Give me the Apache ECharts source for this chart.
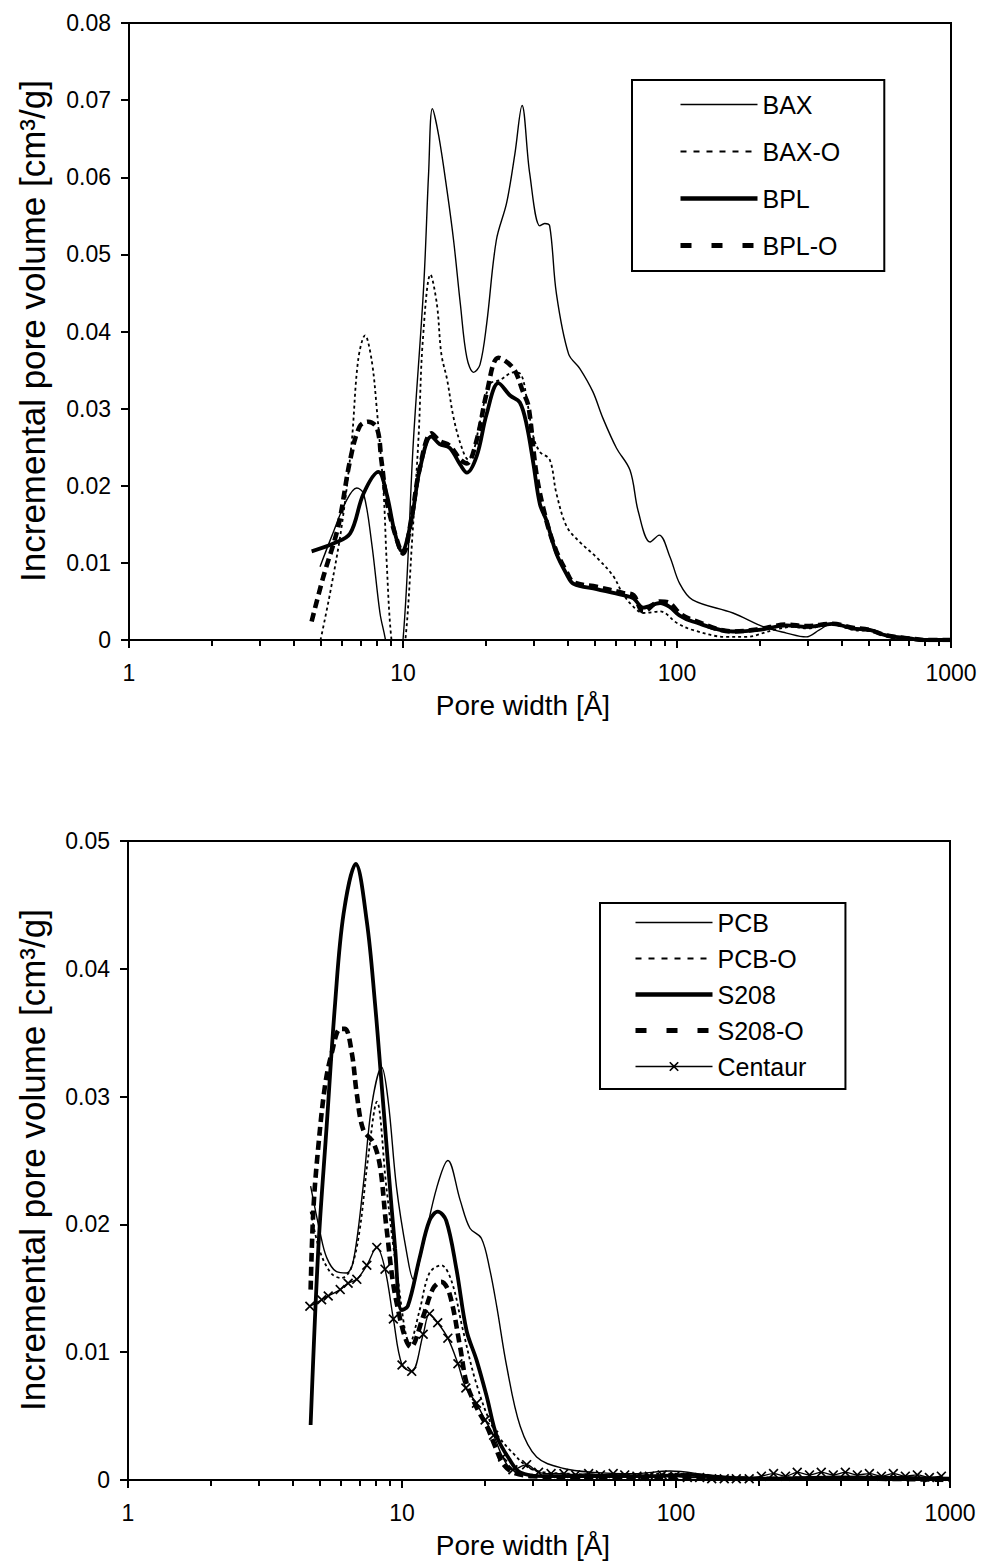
<!DOCTYPE html>
<html><head><meta charset="utf-8">
<script src="https://cdn.jsdelivr.net/npm/echarts@6/dist/echarts.min.js"></script>
<style>html,body{margin:0;padding:0;background:#fff}#c{width:981px;height:1566px}</style>
</head><body><div id="c"></div>
<script>
const FONT = '"Liberation Sans", Arial, Helvetica, sans-serif';

// ---------- Top chart data: [pore width Å, incremental pore volume cm3/g] ----------
const bax = [[4.98,0.0095],[5.5,0.0135],[6.2,0.018],[6.78,0.0197],[7.18,0.019],[7.69,0.0125],[8.24,0.0035],[8.6,0.0003],[9.2,-0.006],[10.0,0.0],[10.9,0.0255],[11.9,0.0459],[12.4,0.0605],[12.8,0.0689],[13.5,0.0654],[14.5,0.0581],[15.3,0.0518],[16.2,0.0435],[17.1,0.0366],[18.1,0.0347],[19.1,0.0357],[20.2,0.041],[21.9,0.0518],[23.9,0.0567],[25.6,0.063],[27.2,0.0693],[29.0,0.0605],[31.6,0.0537],[32.9,0.054],[34.3,0.0537],[36.3,0.0449],[40.2,0.0371],[44.2,0.0352],[49.3,0.0322],[53.6,0.0288],[60.1,0.0249],[67.4,0.022],[72.3,0.0166],[79.8,0.0127],[86.1,0.0136],[94.2,0.0108],[102.3,0.0073],[114,0.0052],[160,0.0035],[207,0.0017],[251,0.0009],[296,0.0004],[331,0.0013],[370,0.0022],[427,0.0015],[519,0.0013],[595,0.0004],[708,0.0002],[800,0],[1000,0]];
const baxO = [[5.0,0.0],[5.42,0.0061],[5.97,0.0147],[6.49,0.0255],[6.86,0.0363],[7.27,0.0395],[7.69,0.0362],[8.03,0.0298],[8.5,0.019],[8.71,0.0104],[9.06,0.0003],[9.6,-0.005],[10.2,0.0],[10.8,0.013],[11.4,0.0264],[11.8,0.0386],[12.6,0.0474],[13.3,0.0435],[13.8,0.0371],[14.5,0.0337],[15.3,0.0288],[16.4,0.0249],[17.3,0.0234],[18.1,0.0245],[19.1,0.0283],[20.8,0.0332],[22.6,0.0337],[25.3,0.0347],[27.0,0.0344],[28.3,0.0312],[29.9,0.0264],[31.6,0.0244],[34.3,0.0234],[36.3,0.019],[39.6,0.0147],[44.2,0.0127],[50.9,0.0107],[58.5,0.0083],[63.4,0.006],[69.4,0.0043],[75.3,0.0035],[86.8,0.0037],[100,0.0022],[114,0.0013],[151,0.0004],[178,0.0004],[225,0.0013],[265,0.0017],[296,0.0015],[370,0.002],[440,0.0013],[519,0.0011],[600,0.0003],[708,0.0001],[1000,0]];
const bpl = [[4.64,0.0115],[5.57,0.0125],[6.41,0.0138],[7.18,0.019],[8.14,0.0218],[8.71,0.019],[9.35,0.0138],[9.9,0.0115],[10.74,0.0156],[11.5,0.022],[12.7,0.0264],[13.6,0.0254],[14.8,0.0249],[16.2,0.0227],[17.1,0.0217],[18.6,0.0239],[20.2,0.0293],[22.3,0.0333],[24.6,0.0317],[26.7,0.0308],[28.3,0.0278],[29.9,0.0229],[31.6,0.0176],[33.3,0.0156],[36.3,0.0112],[39.6,0.0085],[41.9,0.0073],[50.9,0.0066],[63.6,0.0058],[69.4,0.0054],[75.3,0.0042],[86.8,0.0048],[94,0.0043],[102,0.0032],[114,0.0024],[160,0.0011],[199,0.0013],[251,0.0019],[296,0.0017],[370,0.0021],[438,0.0015],[505,0.0013],[580,0.0006],[708,0.0002],[800,0],[1000,0]];
const bplO = [[4.64,0.0024],[5.12,0.0082],[5.8,0.0147],[6.41,0.0233],[6.95,0.0277],[7.47,0.0283],[8.03,0.0275],[8.34,0.0233],[8.71,0.0182],[9.35,0.0138],[10.0,0.0112],[10.74,0.0158],[11.5,0.0222],[12.7,0.0268],[13.6,0.0258],[14.8,0.0252],[16.2,0.0234],[17.1,0.0229],[18.6,0.026],[20.2,0.032],[22.3,0.0366],[25.3,0.0352],[27.4,0.0322],[28.7,0.0303],[30.7,0.0215],[33.3,0.0156],[36.3,0.0115],[39.6,0.0088],[41.9,0.0075],[50.9,0.0069],[63.6,0.0061],[69.4,0.0058],[75.3,0.0037],[86.8,0.005],[94,0.0048],[102,0.0035],[114,0.0026],[160,0.0011],[199,0.0014],[251,0.002],[296,0.0018],[370,0.0021],[438,0.0016],[505,0.0013],[580,0.0006],[708,0.0002],[800,0],[1000,0]];

// ---------- Bottom chart data ----------
const pcb = [[4.64,0.023],[5.02,0.0194],[5.31,0.0174],[5.77,0.0163],[6.27,0.0162],[6.64,0.0171],[7.21,0.0229],[7.75,0.0293],[8.43,0.0323],[8.91,0.0296],[9.55,0.0229],[10.4,0.0178],[11.0,0.0157],[11.95,0.0184],[13.4,0.0229],[14.7,0.025],[16.3,0.0219],[17.7,0.0197],[19.5,0.0189],[20.9,0.0165],[22.2,0.0135],[24.1,0.0089],[27.0,0.0042],[31,0.0018],[38.9,0.0009],[50,0.0006],[70,0.0005],[95,0.0007],[130,0.0004],[170,0.0001],[200,0.0001],[300,0.0002],[500,0.0002],[1000,0.0001]];
const pcbO = [[4.64,0.021],[5.0,0.018],[5.5,0.0162],[6.0,0.0158],[6.5,0.0165],[7.0,0.0195],[7.5,0.025],[8.1,0.0296],[8.77,0.0229],[9.55,0.0165],[10.7,0.0107],[11.6,0.0133],[12.6,0.0162],[13.9,0.0168],[15.2,0.0155],[16.7,0.0117],[18.7,0.0075],[21.6,0.004],[25.4,0.0021],[30.1,0.0008],[40,0.0005],[60,0.0004],[95,0.0005],[130,0.0003],[180,0.0001],[300,0.0002],[600,0.0002],[1000,0.0001]];
const s208 = [[4.64,0.0043],[4.95,0.0181],[5.31,0.0277],[5.7,0.0373],[6.12,0.0443],[6.78,0.0482],[7.44,0.0437],[7.97,0.0373],[8.43,0.0309],[8.91,0.0245],[9.44,0.0181],[9.96,0.0133],[10.5,0.0136],[11.6,0.0174],[12.6,0.0203],[13.5,0.021],[14.5,0.0203],[15.8,0.0165],[17.2,0.0117],[18.7,0.0094],[20.4,0.0065],[22.2,0.0034],[24.7,0.0016],[27.0,0.0006],[32.7,0.0003],[50,0.0003],[80,0.0003],[110,0.0004],[150,0.0002],[200,0.0001],[400,0.0002],[1000,0.0001]];
const s208O = [[4.64,0.0149],[4.75,0.0212],[4.95,0.0261],[5.24,0.0309],[5.54,0.0334],[5.95,0.0353],[6.2,0.0353],[6.56,0.0334],[6.84,0.0302],[7.22,0.0274],[7.86,0.0264],[8.32,0.0245],[8.78,0.0197],[9.55,0.0139],[10.8,0.0104],[11.95,0.0128],[13.0,0.015],[13.9,0.0155],[14.9,0.0146],[16.3,0.0104],[17.2,0.0076],[18.7,0.0057],[20.4,0.0042],[21.9,0.0026],[23.3,0.0013],[25.4,0.0006],[30,0.0003],[50,0.0002],[100,0.0002],[200,0.0001],[500,0.0001],[1000,0]];
const centaur = [[4.61,0.0136],[5.09,0.0141],[5.38,0.0144],[5.95,0.0149],[6.36,0.0154],[6.84,0.0157],[7.44,0.0168],[8.09,0.0182],[8.67,0.0165],[9.3,0.0126],[10.0,0.009],[10.85,0.0085],[11.95,0.0114],[12.6,0.013],[13.5,0.0123],[14.7,0.0111],[16.0,0.0091],[17.1,0.0072],[18.7,0.006],[20.1,0.0047],[21.6,0.0035],[23.3,0.0018],[25.4,0.0008],[28.5,0.0012],[31.5,0.0006],[35,0.0005],[39,0.0005],[43,0.0004],[48,0.0005],[53,0.0004],[59,0.0005],[65,0.0004],[72,0.0003],[80,0.0003],[89,0.0004],[99,0.0003],[110,0.0002],[122,0.0002],[135,0.0001],[150,0.0001],[166,0.0001],[185,0.0001],[205,0.0003],[227,0.0005],[251,0.0003],[277,0.0006],[307,0.0004],[339,0.0006],[375,0.0004],[415,0.0006],[459,0.0004],[508,0.0005],[562,0.0003],[621,0.0005],[687,0.0003],[760,0.0004],[841,0.0002],[930,0.0003]];

// ---------- Axis tick values / labels ----------
const xMinorTicks = [2,3,4,5,6,7,8,9,20,30,40,50,60,70,80,90,200,300,400,500,600,700,800,900];
const xMin = 1, xMax = 1000;
const topYMax = 0.08, bottomYMax = 0.05, yStep = 0.01;
const xTitle = 'Pore width [Å]';
const yTitle = 'Incremental pore volume [cm³/g]';

const X_SYMBOL = 'path://M0,1.2L1.2,0L5,3.8L8.8,0L10,1.2L6.2,5L10,8.8L8.8,10L5,6.2L1.2,10L0,8.8L3.8,5Z';

const chart = echarts.init(document.getElementById('c'), null, {renderer: 'svg'});

function majorX(gi) {
  return {
    type: 'log', logBase: 10, min: xMin, max: xMax, gridIndex: gi, position: 'bottom',
    axisLine: {show: true, lineStyle: {color: '#000', width: 2}},
    axisTick: {show: true, inside: false, length: 8, lineStyle: {color: '#000', width: 2}},
    axisLabel: {show: true, color: '#000', fontSize: 23, fontFamily: FONT, margin: 21,
      formatter: function (v) { return String(Math.round(v)); }},
    splitLine: {show: false}, minorTick: {show: false}, minorSplitLine: {show: false}
  };
}
// minor tick marks at 2..9 of each decade (axis expressed in decades)
function minorX(gi) {
  return {
    type: 'value', min: Math.log10(xMin), max: Math.log10(xMax), gridIndex: gi, position: 'bottom',
    axisLine: {show: false},
    axisTick: {show: true, inside: false, length: 6, lineStyle: {color: '#000', width: 2},
      customValues: xMinorTicks.map(function (t) { return Math.log10(t); })},
    axisLabel: {show: false},
    splitLine: {show: false}
  };
}
function yAx(gi, max) {
  return {
    type: 'value', min: 0, max: max, interval: yStep, gridIndex: gi,
    axisLine: {show: true, lineStyle: {color: '#000', width: 2}},
    axisTick: {show: true, inside: false, length: 8, lineStyle: {color: '#000', width: 2}},
    axisLabel: {color: '#000', fontSize: 23, fontFamily: FONT, margin: 18},
    splitLine: {show: false}
  };
}
function ln(name, data, xi, yi, width, type, extra) {
  return Object.assign({
    name: name, type: 'line', data: data, xAxisIndex: xi, yAxisIndex: yi,
    symbol: 'none', showSymbol: false, smooth: 0.35, clip: true, silent: true,
    lineStyle: {color: '#000', width: width, type: type || 'solid'},
    itemStyle: {color: '#000'}
  }, extra || {});
}
const legendText = {color: '#000', fontSize: 25, fontFamily: FONT, lineHeight: 25};

chart.setOption({
  animation: false,
  backgroundColor: '#fff',
  grid: [
    {left: 129, top: 23, width: 822, height: 617, show: true, borderColor: '#000', borderWidth: 2, backgroundColor: 'transparent'},
    {left: 128, top: 841, width: 822, height: 639, show: true, borderColor: '#000', borderWidth: 2, backgroundColor: 'transparent'}
  ],
  xAxis: [majorX(0), minorX(0), majorX(1), minorX(1)],
  yAxis: [yAx(0, topYMax), yAx(1, bottomYMax)],
  legend: [
    {
      left: 632, top: 80, orient: 'vertical', itemWidth: 77, itemHeight: 12, itemGap: 22,
      padding: [12, 44, 13, 46], borderColor: '#000', borderWidth: 2, backgroundColor: '#fff',
      textStyle: legendText, selectedMode: false,
      data: [
        {name: 'BAX', itemStyle: {opacity: 0}, lineStyle: {width: 1.5}},
        {name: 'BAX-O', itemStyle: {opacity: 0}, lineStyle: {type: [6, 7], width: 2}},
        {name: 'BPL', itemStyle: {opacity: 0}, lineStyle: {width: 4.5}},
        {name: 'BPL-O', itemStyle: {opacity: 0}, lineStyle: {type: [11, 20], width: 5}}
      ]
    },
    {
      left: 600, top: 903, orient: 'vertical', itemWidth: 77, itemHeight: 12, itemGap: 11,
      padding: [7, 39, 10, 33], borderColor: '#000', borderWidth: 2, backgroundColor: '#fff',
      textStyle: legendText, selectedMode: false,
      data: [
        {name: 'PCB', itemStyle: {opacity: 0}, lineStyle: {width: 1.5}},
        {name: 'PCB-O', itemStyle: {opacity: 0}, lineStyle: {type: [6, 7], width: 2}},
        {name: 'S208', itemStyle: {opacity: 0}, lineStyle: {width: 4.5}},
        {name: 'S208-O', itemStyle: {opacity: 0}, lineStyle: {type: [11, 20], width: 5}},
        {name: 'Centaur', lineStyle: {width: 1.5}}
      ]
    }
  ],
  series: [
    ln('BAX', bax, 0, 0, 1.4),
    ln('BAX-O', baxO, 0, 0, 1.8, [3, 3]),
    ln('BPL', bpl, 0, 0, 3.8),
    ln('BPL-O', bplO, 0, 0, 4.6, [9, 5]),
    ln('PCB', pcb, 2, 1, 1.4),
    ln('PCB-O', pcbO, 2, 1, 1.8, [3, 3]),
    ln('S208', s208, 2, 1, 3.8),
    ln('S208-O', s208O, 2, 1, 4.6, [9, 5]),
    ln('Centaur', centaur, 2, 1, 1.4, 'solid', {symbol: X_SYMBOL, showSymbol: true, symbolSize: 10, itemStyle: {color: '#000'}})
  ],
  graphic: [
    {type: 'text', x: 523, y: 705, style: {text: xTitle, fill: '#000', fontSize: 28, fontFamily: FONT, align: 'center', verticalAlign: 'middle'}},
    {type: 'text', x: 523, y: 1545, style: {text: xTitle, fill: '#000', fontSize: 28, fontFamily: FONT, align: 'center', verticalAlign: 'middle'}},
    {type: 'text', x: 32, y: 331, rotation: Math.PI / 2, style: {text: yTitle, fill: '#000', fontSize: 35, fontFamily: FONT, align: 'center', verticalAlign: 'middle'}},
    {type: 'text', x: 32, y: 1160, rotation: Math.PI / 2, style: {text: yTitle, fill: '#000', fontSize: 35, fontFamily: FONT, align: 'center', verticalAlign: 'middle'}}
  ]
});
</script>
</body></html>
